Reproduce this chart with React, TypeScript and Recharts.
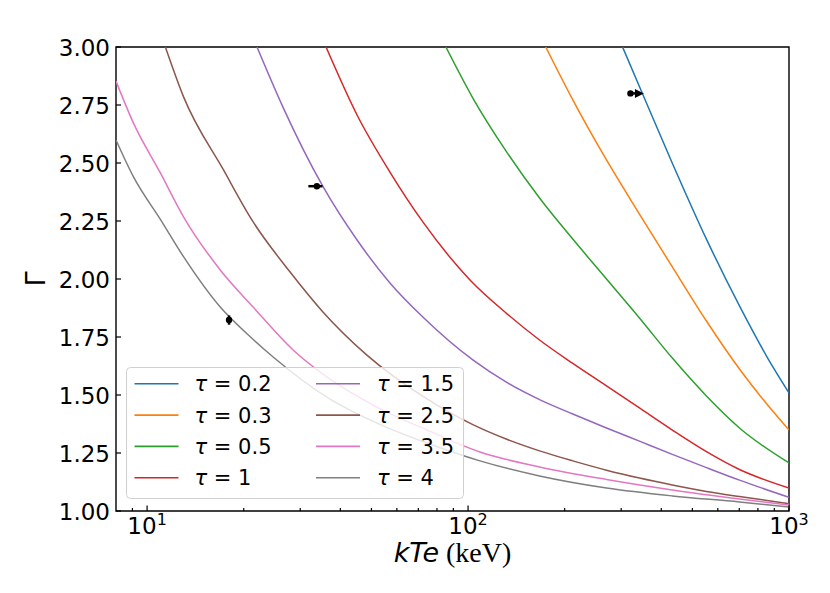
import React from 'react';
import { ComposedChart, Line, Scatter, XAxis, YAxis, ErrorBar, ReferenceArea, Legend } from 'recharts';

// ---- model curves: kTe (keV) vs photon index Gamma, one per optical depth tau
const tauLabels = ['0.2', '0.3', '0.5', '1', '1.5', '2.5', '3.5', '4'];
const tauColors = ['#1f77b4', '#ff7f0e', '#2ca02c', '#d62728', '#9467bd', '#8c564b', '#e377c2', '#7f7f7f'];

const kTe_02 = [303, 352, 434, 553, 701, 851, 1000];
const gamma_02 = [3.0, 2.789, 2.496, 2.172, 1.884, 1.668, 1.509];

const kTe_03 = [174.6, 212, 270, 342, 433, 553, 701, 838, 1000];
const gamma_03 = [3.0, 2.772, 2.513, 2.28, 2.052, 1.819, 1.612, 1.474, 1.349];

const kTe_05 = [85.3, 103.5, 132, 167, 212, 270, 342, 433, 553, 701, 1000];
const gamma_05 = [3.0, 2.78, 2.547, 2.349, 2.172, 2.0, 1.832, 1.659, 1.496, 1.358, 1.207];

const kTe_1 = [36.1, 45.1, 57.1, 72.3, 101.4, 132, 167, 212, 270, 342, 433, 553, 701, 1000];
const gamma_1 = [3.0, 2.707, 2.461, 2.246, 1.996, 1.851, 1.737, 1.636, 1.539, 1.444, 1.349, 1.256, 1.179, 1.099];

const kTe_15 = [22.0, 26.5, 35.3, 45.1, 57.1, 72.3, 103.5, 132, 167, 212, 270, 342, 433, 553, 701, 1000];
const gamma_15 = [3.0, 2.741, 2.399, 2.168, 1.983, 1.836, 1.651, 1.554, 1.48, 1.418, 1.358, 1.301, 1.244, 1.187, 1.133, 1.059];

const kTe_25 = [11.4, 13.0, 17.3, 21.4, 27.9, 35.3, 48.4, 74.5, 103.5, 132, 167, 212, 270, 342, 433, 553, 701, 1000];
const gamma_25 = [3.0, 2.784, 2.47, 2.246, 2.03, 1.858, 1.672, 1.483, 1.372, 1.309, 1.259, 1.216, 1.176, 1.142, 1.112, 1.084, 1.062, 1.032];

const kTe_35 = [8.0, 9.07, 11.0, 13.0, 16.9, 21.4, 28.5, 36.3, 52.0, 74.5, 108.9, 167, 270, 433, 701, 1000];
const gamma_35 = [2.853, 2.672, 2.457, 2.267, 2.039, 1.879, 1.694, 1.578, 1.448, 1.349, 1.254, 1.19, 1.136, 1.091, 1.052, 1.026];

const kTe_4 = [8.0, 9.07, 11.0, 13.0, 16.9, 21.0, 24.7, 36.3, 52.0, 74.5, 108.9, 167, 270, 433, 701, 1000];
const gamma_4 = [2.599, 2.44, 2.257, 2.095, 1.879, 1.75, 1.664, 1.491, 1.379, 1.293, 1.216, 1.151, 1.099, 1.065, 1.039, 1.017];

const seriesX = [kTe_02, kTe_03, kTe_05, kTe_1, kTe_15, kTe_25, kTe_35, kTe_4];
const seriesY = [gamma_02, gamma_03, gamma_05, gamma_1, gamma_15, gamma_25, gamma_35, gamma_4];

// ---- observed sources
const obsA_x = [33.8];
const obsA_y = [2.4];
const obsA_xerr = [[2.0, 1.4]];
const obsB_x = [18.0];
const obsB_y = [1.823];
const obsB_yerr = [0.02];
const obsLim_x = [320.6];
const obsLim_y = [2.8];

// ---- ticks
const xMajor = [10, 100, 1000];
const xMinor = [9, 20, 30, 40, 50, 60, 70, 80, 90, 200, 300, 400, 500, 600, 700, 800, 900];
const xTicks = [...xMinor, ...xMajor].sort((a, b) => a - b);
const yTicks = [1.0, 1.25, 1.5, 1.75, 2.0, 2.25, 2.5, 2.75, 3.0];

const FONT = '"DejaVu Sans", sans-serif';

const series = tauLabels.map((t, i) => ({
  name: `τ = ${t}`,
  color: tauColors[i],
  data: seriesX[i].map((x, j) => ({ x, y: seriesY[i][j] })),
}));

const obsA = obsA_x.map((x, i) => ({ x, y: obsA_y[i], ex: obsA_xerr[i] }));
const obsB = obsB_x.map((x, i) => ({ x, y: obsB_y[i], ey: obsB_yerr[i] }));
const obsLim = obsLim_x.map((x, i) => ({ x, y: obsLim_y[i] }));

const XTick = (props: any) => {
  const { x, y, payload } = props;
  const v = payload.value;
  const major = xMajor.includes(v);
  const exp = Math.round(Math.log10(v));
  return (
    <g>
      <line x1={x} x2={x} y1={y} y2={y - (major ? 5.5 : 3)} stroke="#000" strokeWidth={1.2} />
      {major && (
        <text x={x} y={y + 23} textAnchor="middle" fontFamily={FONT} fontSize={23} fill="#000">
          10
          <tspan fontSize={16} dy={-9}>{exp}</tspan>
        </text>
      )}
    </g>
  );
};

const YTick = (props: any) => {
  const { x, y, payload } = props;
  return (
    <g>
      <line x1={x} x2={x + 5} y1={y} y2={y} stroke="#000" strokeWidth={1.2} />
      <text x={x - 6} y={y + 8.5} textAnchor="end" fontFamily={FONT} fontSize={23} fill="#000">
        {Number(payload.value).toFixed(2)}
      </text>
    </g>
  );
};

const Dot = (props: any) => <circle cx={props.cx} cy={props.cy} r={3.2} fill="#000" />;

const LimitArrow = (props: any) => {
  const { cx, cy } = props;
  return (
    <g>
      <circle cx={cx} cy={cy} r={3.2} fill="#000" />
      <line x1={cx} x2={cx + 8} y1={cy} y2={cy} stroke="#000" strokeWidth={2.5} />
      <polygon points={`${cx + 4.5},${cy - 4.5} ${cx + 13.5},${cy} ${cx + 4.5},${cy + 4.5}`} fill="#000" />
    </g>
  );
};

const LegendBox = () => {
  const rows = 4;
  return (
    <svg width={338} height={132} style={{ display: 'block' }}>
      <rect x={0.5} y={0.5} width={337} height={131} rx={4} ry={4} fill="rgba(255,255,255,0.8)" stroke="#d0d0d0" strokeWidth={1} />
      {series.map((s, i) => {
        const col = Math.floor(i / rows);
        const row = i % rows;
        const lx = col === 0 ? 8.5 : 190;
        const tx = col === 0 ? 68.5 : 251;
        const cy = 16.8 + row * 31.3;
        return (
          <g key={s.name}>
            <line x1={lx} x2={lx + 44} y1={cy} y2={cy} stroke={s.color} strokeWidth={1.6} />
            <text x={tx} y={cy + 7.5} fontFamily={FONT} fontSize={21} fill="#000">
              <tspan fontStyle="italic">τ</tspan>
              {` = ${tauLabels[i]}`}
            </text>
          </g>
        );
      })}
    </svg>
  );
};

const XLabel = (props: any) => {
  const vb = props.viewBox || {};
  const cx = vb.x + vb.width / 2;
  return (
    <text x={cx} y={vb.y + 51} textAnchor="middle" fill="#000">
      <tspan fontFamily={FONT} fontStyle="italic" fontSize={27}>kTe</tspan>
      <tspan fontFamily='"Liberation Serif", serif' fontSize={28}> (keV)</tspan>
    </text>
  );
};

const YLabel = (props: any) => {
  const vb = props.viewBox || {};
  const cy = vb.y + vb.height / 2;
  return (
    <text
      x={35}
      y={cy}
      transform={`rotate(-90 35 ${cy})`}
      textAnchor="middle"
      dominantBaseline="central"
      fontFamily={FONT}
      fontSize={27}
      fill="#000"
    >
      Γ
    </text>
  );
};

export default function App() {
  return (
    <div style={{ position: 'absolute', left: 0, top: 0, width: 830, height: 593, background: '#fff' }}>
      <ComposedChart width={830} height={593} margin={{ top: 47, right: 41, bottom: 0, left: 0 }}>
        <XAxis
          type="number"
          dataKey="x"
          scale="log"
          domain={[8, 1000]}
          allowDataOverflow
          ticks={xTicks}
          interval={0}
          height={82}
          axisLine={false}
          tickLine={false}
          tickSize={0}
          tickMargin={0}
          tick={<XTick />}
          label={{ content: <XLabel /> }}
        />
        <YAxis
          type="number"
          dataKey="y"
          domain={[1, 3]}
          allowDataOverflow
          ticks={yTicks}
          interval={0}
          width={116}
          axisLine={false}
          tickLine={false}
          tickSize={0}
          tickMargin={0}
          tick={<YTick />}
          label={{ content: <YLabel /> }}
        />
        {series.map((s) => (
          <Line
            key={s.name}
            data={s.data}
            dataKey="y"
            name={s.name}
            type="monotone"
            stroke={s.color}
            strokeWidth={1.5}
            dot={false}
            activeDot={false}
            isAnimationActive={false}
          />
        ))}
        <Scatter data={obsA} dataKey="y" shape={<Dot />} isAnimationActive={false} legendType="none">
          <ErrorBar dataKey="ex" direction="x" width={0} stroke="#000" strokeWidth={2.5} isAnimationActive={false} />
        </Scatter>
        <Scatter data={obsB} dataKey="y" shape={<Dot />} isAnimationActive={false} legendType="none">
          <ErrorBar dataKey="ey" direction="y" width={0} stroke="#000" strokeWidth={2.5} isAnimationActive={false} />
        </Scatter>
        <Scatter data={obsLim} dataKey="y" shape={<LimitArrow />} isAnimationActive={false} legendType="none" />
        <ReferenceArea x1={8} x2={1000} y1={1} y2={3} fill="none" stroke="#000" strokeWidth={1.4} ifOverflow="visible" />
        <Legend
          layout="horizontal"
          verticalAlign="middle"
          align="center"
          content={<LegendBox />}
          wrapperStyle={{ position: 'absolute', left: 126, top: 367, width: 338, height: 132 }}
        />
      </ComposedChart>
    </div>
  );
}
